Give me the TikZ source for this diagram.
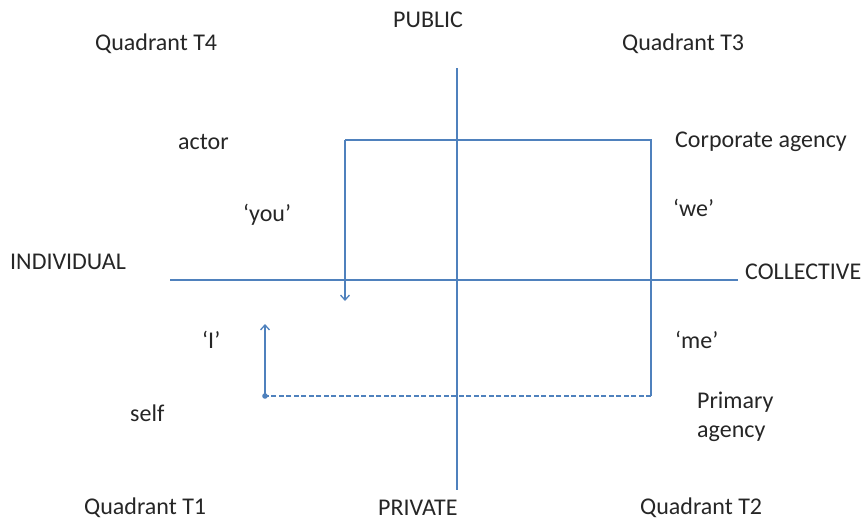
\documentclass[tikz,border=0pt]{standalone}
\usepackage{fontspec}
\setmainfont{Carlito}
\usetikzlibrary{arrows.meta}
\definecolor{axisblue}{RGB}{79,129,189}
\begin{document}
\begin{tikzpicture}[x=1pt,y=-1pt,
  lbl/.style={anchor=west,inner sep=0pt,font=\fontsize{24}{29}\selectfont,text=black!85},
  axis/.style={draw=axisblue,line width=1.5pt},
  arr/.style={draw=axisblue,line width=1.5pt,-{Straight Barb[length=5pt,width=9pt,line width=1.3pt]}},
  dashline/.style={draw=axisblue,line width=1.3pt,dash pattern=on 5pt off 2.5pt}]
\useasboundingbox (0,0) rectangle (865,522);
\fill[white] (0,0) rectangle (865,522);
% coordinates
\coordinate (vtop) at (457,68);
\coordinate (vbot) at (457,490);
\coordinate (hl) at (170,280);
\coordinate (hr) at (738,280);
\coordinate (tl) at (345,140);
\coordinate (tr) at (651,140);
\coordinate (br) at (651,396);
\coordinate (bl) at (265,396);
\coordinate (ldown) at (345,301);
\coordinate (lup) at (265,324);
% axes
\draw[axis] (vtop) -- (vbot);
\draw[axis] (hl) -- (hr);
% cycle
\draw[axis] (ldown |- tl) -- (tr) -- (br);
\draw[arr] (tl) -- (ldown);
\draw[dashline] (br) -- (bl);
\draw[arr] (bl) -- (lup);
\fill[axisblue] (bl) circle (2.8pt);
% labels
\node[lbl] (q4) at (95,44) {Quadrant T4};
\node[lbl] (pub) at (393,20) {PUBLIC};
\node[lbl] (q3) at (622,44) {Quadrant T3};
\node[lbl] (actor) at (178,142) {actor};
\node[lbl] (corp) at (675,142) {Corporate agency};
\node[lbl] (you) at (243,215) {‘you’};
\node[lbl] (we) at (673,208) {‘we’};
\node[lbl] (ind) at (10,262) {INDIVIDUAL};
\node[lbl] (col) at (745,272) {COLLECTIVE};
\node[lbl] (i) at (202,340) {‘I’};
\node[lbl] (me) at (675,340) {‘me’};
\node[lbl] (self) at (130,413) {self};
\node[lbl,align=left] (prim) at (697,417) {Primary\\agency};
\node[lbl] (q1) at (84,508) {Quadrant T1};
\node[lbl] (priv) at (378,508) {PRIVATE};
\node[lbl] (q2) at (640,508) {Quadrant T2};
\end{tikzpicture}
\end{document}
